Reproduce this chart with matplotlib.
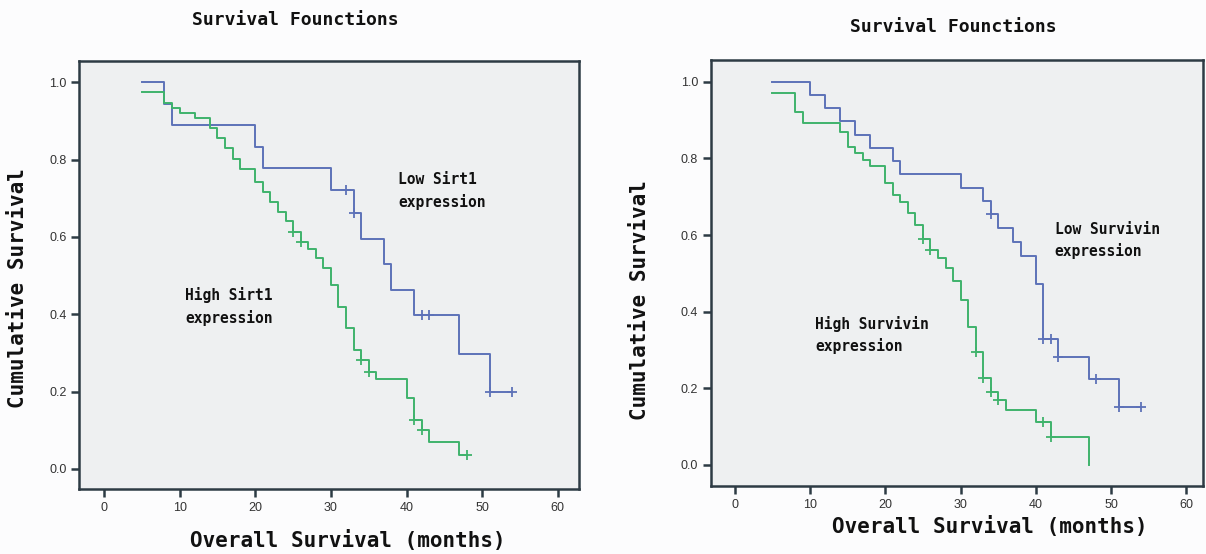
import matplotlib
matplotlib.use("Agg")
import matplotlib.pyplot as plt
import numpy as np

# ---- data ----
# left panel: Sirt1
low_sirt1_start = 1.0
low_sirt1_t = [8, 9, 20, 21, 30, 33, 34, 37, 38, 41, 47, 51]
low_sirt1_s = [0.944, 0.889, 0.833, 0.778, 0.722, 0.662, 0.596, 0.530, 0.464, 0.397, 0.298, 0.199]
low_sirt1_cens_t = [32, 33, 42, 43, 51, 54]
low_sirt1_cens_s = [0.722, 0.662, 0.397, 0.397, 0.199, 0.199]

high_sirt1_start = 0.974
high_sirt1_t = [8, 9, 10, 12, 14, 15, 16, 17, 18, 20, 21, 22, 23, 24, 25, 26, 27, 28,
                29, 30, 31, 32, 33, 34, 35, 36, 40, 41, 42, 43, 47]
high_sirt1_s = [0.947, 0.933, 0.92, 0.907, 0.881, 0.855, 0.829, 0.803, 0.776, 0.742, 0.716,
                0.69, 0.665, 0.641, 0.613, 0.588, 0.57, 0.545, 0.52, 0.477, 0.42, 0.364,
                0.308, 0.283, 0.252, 0.233, 0.183, 0.126, 0.1, 0.07, 0.037]
high_sirt1_cens_t = [25, 26, 34, 35, 41, 42, 48]
high_sirt1_cens_s = [0.613, 0.588, 0.283, 0.252, 0.126, 0.1, 0.037]

# right panel: Survivin
low_surv_start = 1.0
low_surv_t = [10, 12, 14, 16, 18, 21, 22, 30, 33, 34, 35, 37, 38, 40, 41, 43, 47, 51]
low_surv_s = [0.966, 0.931, 0.897, 0.862, 0.828, 0.793, 0.759, 0.724, 0.690, 0.655, 0.619,
              0.583, 0.546, 0.473, 0.328, 0.281, 0.225, 0.150]
low_surv_cens_t = [34, 41, 42, 43, 48, 51, 54]
low_surv_cens_s = [0.655, 0.328, 0.328, 0.281, 0.225, 0.150, 0.150]

high_surv_start = 0.971
high_surv_t = [8, 9, 14, 15, 16, 17, 18, 20, 21, 22, 23, 24, 25, 26, 27, 28, 29, 30, 31,
               32, 33, 34, 35, 36, 40, 42, 47]
high_surv_s = [0.922, 0.893, 0.87, 0.83, 0.813, 0.795, 0.78, 0.735, 0.705, 0.687, 0.657,
               0.626, 0.591, 0.561, 0.541, 0.515, 0.48, 0.43, 0.361, 0.296, 0.226, 0.19,
               0.17, 0.143, 0.113, 0.074, 0.0]
high_surv_cens_t = [25, 26, 32, 33, 34, 35, 41, 42]
high_surv_cens_s = [0.591, 0.561, 0.296, 0.226, 0.19, 0.17, 0.113, 0.074]

first_time = 5
x_ticks = [0, 10, 20, 30, 40, 50, 60]
y_ticks = [0.0, 0.2, 0.4, 0.6, 0.8, 1.0]

BLUE = '#5d72b8'
GREEN = '#3fb36c'
FRAME = '#2d3b44'
MONO = 'DejaVu Sans Mono'


def km_curve(ax, start, t, s, ct, cs, color):
    xs = [first_time] + list(t)
    ys = [start] + list(s)
    if ct and max(ct) > xs[-1]:
        xs.append(max(ct))
        ys.append(ys[-1])
    ax.step(xs, ys, where='post', color=color, lw=1.4)
    ax.plot(ct, cs, ls='none', marker='+', ms=6.5, mew=1.3, color=color)


def style_axes(ax, xlim, ylim):
    ax.set_facecolor('#eef0f1')
    ax.set_xlim(*xlim)
    ax.set_ylim(*ylim)
    ax.set_xticks(x_ticks)
    ax.set_yticks(y_ticks)
    ax.set_yticklabels(['%.1f' % v for v in y_ticks])
    for sp in ax.spines.values():
        sp.set_color(FRAME)
        sp.set_linewidth(1.8)
    ax.tick_params(direction='out', length=6, width=1.8, color=FRAME,
                   labelsize=9, labelcolor='#333333', pad=3)
    for lab in ax.get_xticklabels() + ax.get_yticklabels():
        lab.set_family('Liberation Sans')


fig = plt.figure(figsize=(12.06, 5.54), dpi=100)
fig.patch.set_facecolor('#fcfcfd')

ax1 = fig.add_axes([0.0655, 0.1173, 0.4146, 0.7731])
km_curve(ax1, low_sirt1_start, low_sirt1_t, low_sirt1_s, low_sirt1_cens_t, low_sirt1_cens_s, BLUE)
km_curve(ax1, high_sirt1_start, high_sirt1_t, high_sirt1_s, high_sirt1_cens_t, high_sirt1_cens_s, GREEN)
style_axes(ax1, (-3.3, 62.8), (-0.052, 1.056))
ax1.text(38.9, 0.768, 'Low Sirt1\nexpression', family=MONO, weight='bold', fontsize=10.5,
         va='top', ha='left', linespacing=1.5, color='#111111')
ax1.text(10.7, 0.47, 'High Sirt1\nexpression', family=MONO, weight='bold', fontsize=10.5,
         va='top', ha='left', linespacing=1.5, color='#111111')

ax2 = fig.add_axes([0.5893, 0.1227, 0.4082, 0.769])
km_curve(ax2, low_surv_start, low_surv_t, low_surv_s, low_surv_cens_t, low_surv_cens_s, BLUE)
km_curve(ax2, high_surv_start, high_surv_t, high_surv_s, high_surv_cens_t, high_surv_cens_s, GREEN)
style_axes(ax2, (-3.2, 62.2), (-0.055, 1.057))
ax2.text(42.5, 0.635, 'Low Survivin\nexpression', family=MONO, weight='bold', fontsize=10.5,
         va='top', ha='left', linespacing=1.5, color='#111111')
ax2.text(10.7, 0.39, 'High Survivin\nexpression', family=MONO, weight='bold', fontsize=10.5,
         va='top', ha='left', linespacing=1.5, color='#111111')

# titles and axis labels
fig.text(295 / 1206, 1 - 20 / 554, 'Survival Founctions', family=MONO, weight='bold',
         fontsize=13, ha='center', va='center', color='#111111')
fig.text(953 / 1206, 1 - 27 / 554, 'Survival Founctions', family=MONO, weight='bold',
         fontsize=13, ha='center', va='center', color='#111111')
fig.text(348 / 1206, 1 - 541 / 554, 'Overall Survival (months)', family=MONO, weight='bold',
         fontsize=15, ha='center', va='center', color='#111111')
fig.text(990 / 1206, 1 - 527 / 554, 'Overall Survival (months)', family=MONO, weight='bold',
         fontsize=15, ha='center', va='center', color='#111111')
fig.text(18 / 1206, 1 - 288 / 554, 'Cumulative Survival', family=MONO, weight='bold',
         fontsize=15, ha='center', va='center', rotation=90, color='#111111')
fig.text(640 / 1206, 1 - 300 / 554, 'Cumulative Survival', family=MONO, weight='bold',
         fontsize=15, ha='center', va='center', rotation=90, color='#111111')

fig.savefig('out.png', dpi=100, facecolor=fig.get_facecolor())
